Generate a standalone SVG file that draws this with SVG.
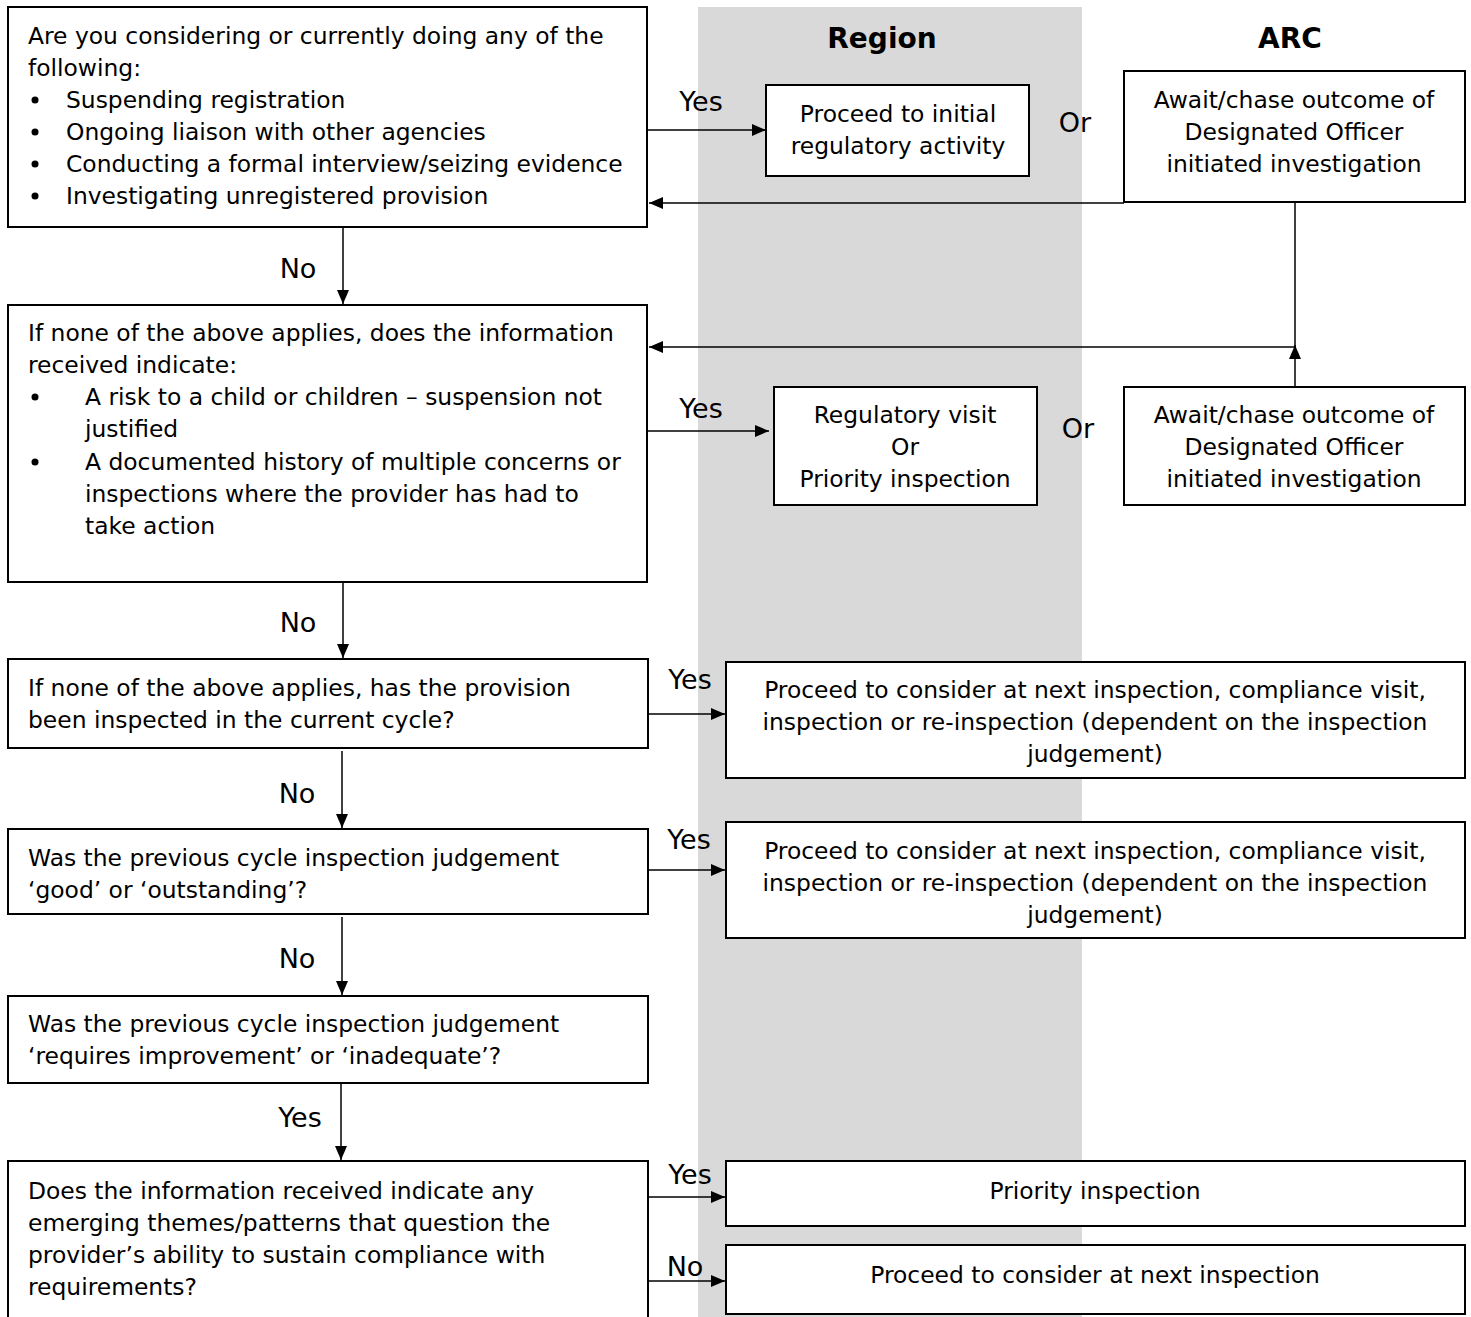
<svg xmlns="http://www.w3.org/2000/svg" width="1471" height="1317" viewBox="0 0 1471 1317">
<style>
text{font-family:"DejaVu Sans",Verdana,sans-serif;font-size:23.4px;fill:#000}
.c{text-anchor:middle}
.h{font-weight:bold;font-size:28px}
.l{font-size:27px}
.box{fill:#fff;stroke:#000;stroke-width:2}
.ln{fill:none;stroke:#000;stroke-width:1.5}
</style>
<defs>
<marker id="ah" viewBox="0 0 14 12" refX="14" refY="6" markerWidth="14" markerHeight="12" markerUnits="userSpaceOnUse" orient="auto">
<path d="M0,0 L14,6 L0,12 z" fill="#000"/>
</marker>
</defs>
<rect x="0" y="0" width="1471" height="1317" fill="#fff"/>
<rect x="698" y="7" width="384" height="1310" fill="#d9d9d9"/>
<text class="c h" x="882" y="48">Region</text>
<text class="c h" x="1290" y="48">ARC</text>

<g id="connectors">
<line class="ln" x1="648" y1="130" x2="766" y2="130" marker-end="url(#ah)"/>
<polyline class="ln" points="1124,203 649,203" marker-end="url(#ah)"/>
<line class="ln" x1="1295" y1="203" x2="1295" y2="347"/>
<line class="ln" x1="1295" y1="387" x2="1295" y2="345" marker-end="url(#ah)"/>
<line class="ln" x1="1295" y1="347" x2="649" y2="347" marker-end="url(#ah)"/>
<line class="ln" x1="343" y1="227" x2="343" y2="304" marker-end="url(#ah)"/>
<line class="ln" x1="648" y1="431" x2="769" y2="431" marker-end="url(#ah)"/>
<line class="ln" x1="343" y1="582" x2="343" y2="658" marker-end="url(#ah)"/>
<line class="ln" x1="648" y1="714" x2="725" y2="714" marker-end="url(#ah)"/>
<line class="ln" x1="342" y1="751" x2="342" y2="828" marker-end="url(#ah)"/>
<line class="ln" x1="648" y1="870" x2="725" y2="870" marker-end="url(#ah)"/>
<line class="ln" x1="342" y1="917" x2="342" y2="995" marker-end="url(#ah)"/>
<line class="ln" x1="341" y1="1083" x2="341" y2="1160" marker-end="url(#ah)"/>
<line class="ln" x1="648" y1="1197" x2="725" y2="1197" marker-end="url(#ah)"/>
<line class="ln" x1="648" y1="1281" x2="725" y2="1281" marker-end="url(#ah)"/>
<text x="701" y="111" class="c l">Yes</text>
<text x="1075" y="132" class="c l">Or</text>
<text x="298" y="278" class="c l">No</text>
<text x="701" y="418" class="c l">Yes</text>
<text x="1078" y="438" class="c l">Or</text>
<text x="298" y="632" class="c l">No</text>
<text x="690" y="689" class="c l">Yes</text>
<text x="297" y="803" class="c l">No</text>
<text x="689" y="849" class="c l">Yes</text>
<text x="297" y="968" class="c l">No</text>
<text x="300" y="1127" class="c l">Yes</text>
<text x="690" y="1184" class="c l">Yes</text>
<text x="685" y="1276" class="c l">No</text>
</g>

<g id="q1">
<rect class="box" x="8" y="7" width="639" height="220"/>
<text x="28" y="44">Are you considering or currently doing any of the</text>
<text x="28" y="76">following:</text>
<circle cx="35" cy="100" r="3.5"/><text x="66" y="108">Suspending registration</text>
<circle cx="35" cy="132" r="3.5"/><text x="66" y="140">Ongoing liaison with other agencies</text>
<circle cx="35" cy="164" r="3.5"/><text x="66" y="172">Conducting a formal interview/seizing evidence</text>
<circle cx="35" cy="196" r="3.5"/><text x="66" y="204">Investigating unregistered provision</text>
</g>

<g id="r1">
<rect class="box" x="766" y="85" width="263" height="91"/>
<text class="c" x="898" y="122">Proceed to initial</text>
<text class="c" x="898" y="154">regulatory activity</text>
</g>

<g id="a1">
<rect class="box" x="1124" y="71" width="341" height="131"/>
<text class="c" x="1294" y="108">Await/chase outcome of</text>
<text class="c" x="1294" y="140">Designated Officer</text>
<text class="c" x="1294" y="172">initiated investigation</text>
</g>

<g id="q2">
<rect class="box" x="8" y="305" width="639" height="277"/>
<text x="28" y="341">If none of the above applies, does the information</text>
<text x="28" y="373">received indicate:</text>
<circle cx="35" cy="397" r="3.5"/><text x="85" y="405">A risk to a child or children – suspension not</text>
<text x="85" y="437">justified</text>
<circle cx="35" cy="462" r="3.5"/><text x="85" y="470">A documented history of multiple concerns or</text>
<text x="85" y="502">inspections where the provider has had to</text>
<text x="85" y="534">take action</text>
</g>

<g id="r2">
<rect class="box" x="774" y="387" width="263" height="118"/>
<text class="c" x="905" y="423">Regulatory visit</text>
<text class="c" x="905" y="455">Or</text>
<text class="c" x="905" y="487">Priority inspection</text>
</g>

<g id="a2">
<rect class="box" x="1124" y="387" width="341" height="118"/>
<text class="c" x="1294" y="423">Await/chase outcome of</text>
<text class="c" x="1294" y="455">Designated Officer</text>
<text class="c" x="1294" y="487">initiated investigation</text>
</g>

<g id="q3">
<rect class="box" x="8" y="659" width="640" height="89"/>
<text x="28" y="696">If none of the above applies, has the provision</text>
<text x="28" y="728">been inspected in the current cycle?</text>
</g>

<g id="r3">
<rect class="box" x="726" y="662" width="739" height="116"/>
<text class="c" x="1095" y="698">Proceed to consider at next inspection, compliance visit,</text>
<text class="c" x="1095" y="730">inspection or re-inspection (dependent on the inspection</text>
<text class="c" x="1095" y="762">judgement)</text>
</g>

<g id="q4">
<rect class="box" x="8" y="829" width="640" height="85"/>
<text x="28" y="866">Was the previous cycle inspection judgement</text>
<text x="28" y="898">‘good’ or ‘outstanding’?</text>
</g>

<g id="r4">
<rect class="box" x="726" y="822" width="739" height="116"/>
<text class="c" x="1095" y="859">Proceed to consider at next inspection, compliance visit,</text>
<text class="c" x="1095" y="891">inspection or re-inspection (dependent on the inspection</text>
<text class="c" x="1095" y="923">judgement)</text>
</g>

<g id="q5">
<rect class="box" x="8" y="996" width="640" height="87"/>
<text x="28" y="1032">Was the previous cycle inspection judgement</text>
<text x="28" y="1064">‘requires improvement’ or ‘inadequate’?</text>
</g>

<g id="q6">
<rect class="box" x="8" y="1161" width="640" height="170"/>
<text x="28" y="1199">Does the information received indicate any</text>
<text x="28" y="1231">emerging themes/patterns that question the</text>
<text x="28" y="1263">provider’s ability to sustain compliance with</text>
<text x="28" y="1295">requirements?</text>
</g>

<g id="r6">
<rect class="box" x="726" y="1161" width="739" height="65"/>
<text class="c" x="1095" y="1199">Priority inspection</text>
</g>

<g id="r7">
<rect class="box" x="726" y="1245" width="739" height="69"/>
<text class="c" x="1095" y="1283">Proceed to consider at next inspection</text>
</g>
</svg>
